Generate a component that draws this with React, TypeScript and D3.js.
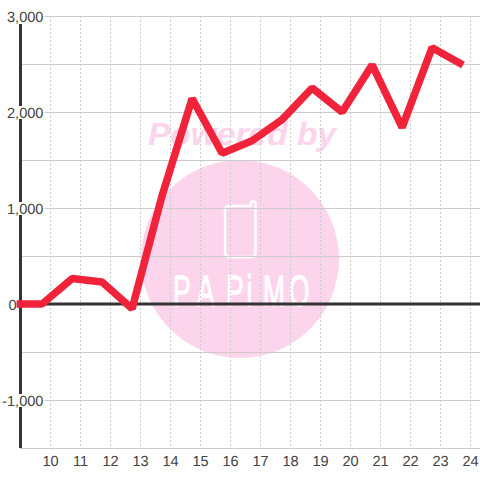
import React from "react";
import * as d3 from "d3";

const xValues = [8.87, 9.72, 10.72, 11.72, 12.72, 13.72, 14.72, 15.72, 16.72, 17.72, 18.72, 19.72, 20.72, 21.72, 22.72, 23.75];
const yValues = [0, 0, 265, 230, -50, 1130, 2140, 1570, 1700, 1920, 2250, 2000, 2490, 1840, 2670, 2490];
const xTicks = [10, 11, 12, 13, 14, 15, 16, 17, 18, 19, 20, 21, 22, 23, 24];
const yGrid = [3000, 2500, 2000, 1500, 1000, 500, 0, -500, -1000, -1500];
const yLabels = ["3,000", "2,000", "1,000", "0", "-1,000"];
const yLabelValues = [3000, 2000, 1000, 0, -1000];
const logoLetters = ["P", "A", "P", "i", "M", "O"];
const logoOffsets = [173, 197, 226, 246.5, 263, 289];
const FONT = "'Liberation Sans', Arial, sans-serif";
const FS = 14.6;
const sx = 0.6;

export default function App() {
  const x = d3.scaleLinear().domain([10, 24]).range([50.5, 470.5]);
  const y = d3.scaleLinear().domain([-1500, 3000]).range([448, 16]);
  const line = d3.line<number>().x((_, i) => x(xValues[i])).y((d) => y(d)).curve(d3.curveLinear);
  return (
    <svg width={480} height={480} textRendering="geometricPrecision" style={{ position: "absolute", left: 0, top: 0, background: "#fff" }}>
      <g>
        <circle cx={240} cy={259} r={99} fill="#fcd5ec" />
        <text x={242} y={145} textAnchor="middle" fontFamily={FONT} fontWeight="bold" fontStyle="italic" fontSize={32} fill="#fcd5ec" textLength={188} lengthAdjust="spacingAndGlyphs">Powered by</text>
        <path d="M232 206 H251 V203.5 Q251 201.5 253 201.5 Q255.5 201.5 255.5 203.5 V253 Q255.5 257 251.5 257 H229 Q225 257 225 253 V210 Q225 206 229 206 Z" fill="none" stroke="#fff" strokeWidth={2.4} />
        <g transform={`translate(0,306) scale(${sx},1)`}>
          {logoLetters.map((c, i) => (
            <text key={i} x={logoOffsets[i] / sx} y={0} fontFamily={FONT} fontSize={44} fill="#fff" stroke="#fff" strokeWidth={1}>{c}</text>
          ))}
        </g>
      </g>
      <g>
        {xTicks.map((t) => (
          <line key={t} x1={x(t)} x2={x(t)} y1={16} y2={448} stroke="#ccc" strokeDasharray="2 2" />
        ))}
        {yGrid.map((t) => (
          <line key={t} x1={20} x2={480} y1={y(t) + 0.5} y2={y(t) + 0.5} stroke="#ccc" />
        ))}
      </g>
      <line x1={20.5} x2={20.5} y1={24} y2={448} stroke="#333" strokeWidth={3} />
      <line x1={20} x2={480} y1={y(0)} y2={y(0)} stroke="#333" strokeWidth={3} />
      <path d={line(yValues) ?? ""} fill="none" stroke="#f0233b" strokeWidth={7.5} strokeLinejoin="bevel" />
      {yLabels.map((label, i) => {
        const t = yLabelValues[i];
        return t === 0 ? (
          <text key={t} x={16.5} y={y(t) + 5.5} textAnchor="end" fontFamily={FONT} fontSize={FS} fill="#444">{label}</text>
        ) : (
          <g key={t}>
            <rect x={t < 0 ? 2 : 6} y={y(t) - 6} width={t < 0 ? 43 : 39} height={13} fill="#fff" />
            <text x={43.5} y={y(t) + 5.5} textAnchor="end" fontFamily={FONT} fontSize={FS} fill="#444">{label}</text>
          </g>
        );
      })}
      {xTicks.map((t) => (
        <text key={t} x={x(t)} y={466} textAnchor="middle" fontFamily={FONT} fontSize={FS} fill="#444">{t}</text>
      ))}
    </svg>
  );
}
